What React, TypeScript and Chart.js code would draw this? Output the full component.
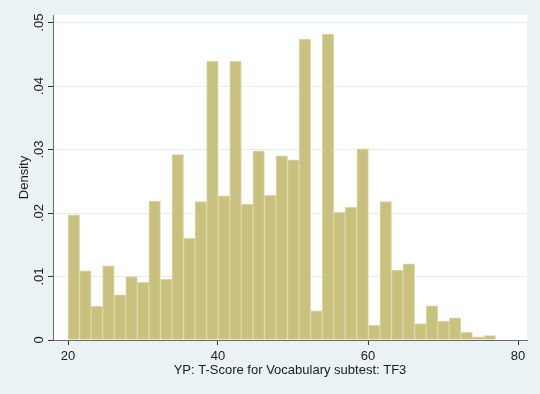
import React, { useEffect, useRef } from 'react';
import { Chart, registerables } from 'chart.js';

Chart.register(...registerables);

// Histogram bins: lower edge of first bin and bin width (T-score units)
const binStart = 20;
const binWidth = 1.5405;

// Density of each bin
const densities = [
  0.0197, 0.0109, 0.0053, 0.0117, 0.0071, 0.0100, 0.0091, 0.0219, 0.0096, 0.0292,
  0.0160, 0.0218, 0.0439, 0.0227, 0.0439, 0.0214, 0.0298, 0.0228, 0.0290, 0.0284,
  0.0474, 0.0046, 0.0482, 0.0201, 0.0209, 0.0301, 0.0023, 0.0218, 0.0110, 0.0120,
  0.0026, 0.0054, 0.0030, 0.0035, 0.0012, 0.0005, 0.0007,
];

const xTicks = [20, 40, 60, 80];
const yTicks = [0, 0.01, 0.02, 0.03, 0.04, 0.05];

const xTitle = 'YP: T-Score for Vocabulary subtest: TF3';
const yTitle = 'Density';

const FONT_FAMILY = '"Liberation Sans", Arial, sans-serif';
const TEXT_COLOR = '#1a1a1a';

const bgPlugin = {
  id: 'stataBg',
  beforeDraw(chart: any) {
    const { ctx, chartArea: a, width, height } = chart;
    ctx.save();
    ctx.fillStyle = '#EAF2F3';
    ctx.fillRect(0, 0, width, height);
    ctx.fillStyle = '#FFFFFF';
    ctx.fillRect(a.left, a.top, a.right - a.left, a.bottom - a.top);
    ctx.restore();
  },
};

export default function App() {
  const canvasRef = useRef<HTMLCanvasElement | null>(null);

  useEffect(() => {
    const canvas = canvasRef.current;
    if (!canvas) return;
    const font = { family: FONT_FAMILY, size: 13 };
    const chart = new Chart(canvas, {
      type: 'bar',
      data: {
        datasets: [
          {
            label: yTitle,
            data: densities.map((d, i) => ({ x: binStart + binWidth * (i + 0.5), y: d })),
            backgroundColor: '#C9C27F',
            borderColor: '#DCD7A6',
            borderWidth: 1,
            barPercentage: 1,
            categoryPercentage: 1,
          },
        ],
      },
      options: {
        responsive: false,
        animation: false,
        layout: { padding: { left: 0, right: 13, top: 15, bottom: 0 } },
        plugins: {
          legend: { display: false },
          tooltip: { enabled: false },
        },
        scales: {
          x: {
            type: 'linear',
            min: 18,
            max: 81.2,
            offset: false,
            afterBuildTicks: (s: any) => {
              s.ticks = xTicks.map((v) => ({ value: v }));
            },
            afterFit: (s: any) => {
              s.height = 54;
            },
            ticks: {
              padding: 4,
              font,
              color: TEXT_COLOR,
              maxRotation: 0,
              minRotation: 0,
              autoSkip: false,
            },
            grid: {
              drawOnChartArea: false,
              offset: false,
              tickLength: 5,
              tickColor: '#333',
            },
            border: { color: '#6b6b6b', width: 1 },
            title: {
              display: true,
              text: xTitle,
              font,
              color: TEXT_COLOR,
              padding: { top: 0, bottom: 16 },
            },
          },
          y: {
            min: 0,
            max: 0.0512,
            afterBuildTicks: (s: any) => {
              s.ticks = yTicks.map((v) => ({ value: v }));
            },
            afterFit: (s: any) => {
              s.width = 53;
            },
            ticks: {
              minRotation: 90,
              maxRotation: 90,
              crossAlign: 'center',
              padding: 0,
              font,
              color: TEXT_COLOR,
              callback: (v: any) => (v === 0 ? '0' : Number(v).toFixed(2).replace(/^0/, '')),
            },
            grid: {
              color: '#E4EEF0',
              tickColor: '#333',
              tickLength: 5,
              lineWidth: 1,
            },
            border: { color: '#6b6b6b', width: 1 },
            title: {
              display: true,
              text: yTitle,
              font,
              color: TEXT_COLOR,
              padding: { top: 17, bottom: 0 },
            },
          },
        },
      },
      plugins: [bgPlugin],
    } as any);
    return () => chart.destroy();
  }, []);

  return (
    <div style={{ position: 'fixed', left: 0, top: 0, width: 540, height: 394, background: '#EAF2F3' }}>
      <canvas ref={canvasRef} width={540} height={394} style={{ display: 'block' }} />
    </div>
  );
}
